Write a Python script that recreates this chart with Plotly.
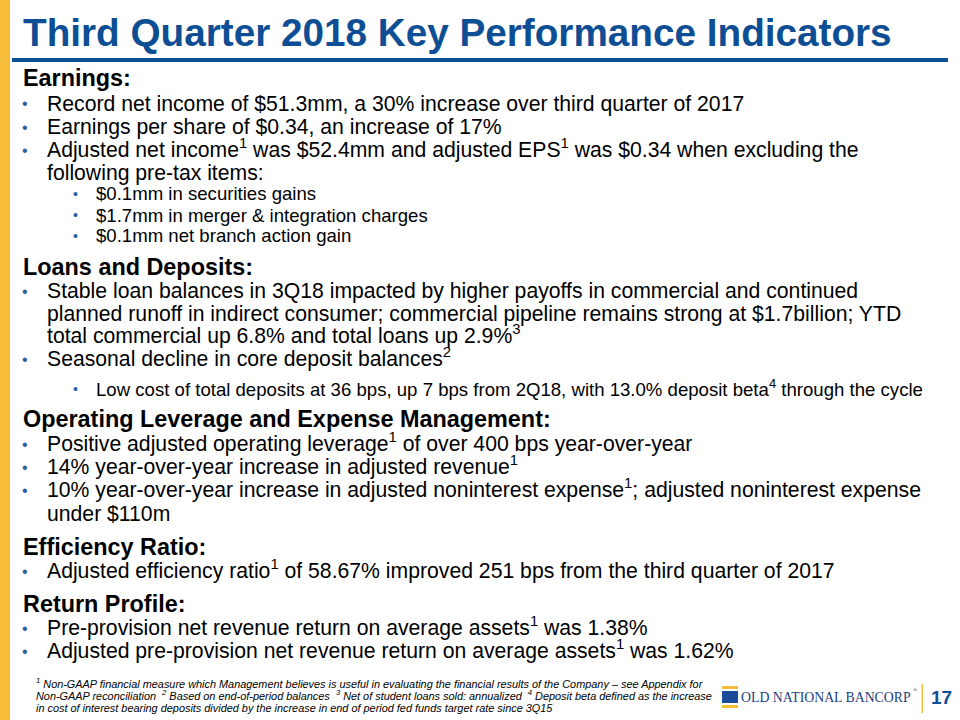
import plotly.graph_objects as go

W, H = 960, 720

# ---------------- text content ----------------
title_text = "Third Quarter 2018 Key Performance Indicators"

section_headers = [
    "Earnings:",
    "Loans and Deposits:",
    "Operating Leverage and Expense Management:",
    "Efficiency Ratio:",
    "Return Profile:",
]

# kind: b = bullet, c = continuation, s = sub-bullet
earnings_lines = [
    ("b", "Record net income of $51.3mm, a 30% increase over third quarter of 2017"),
    ("b", "Earnings per share of $0.34, an increase of 17%"),
    ("b", "Adjusted net income<sup>1</sup> was $52.4mm and adjusted EPS<sup>1</sup> was $0.34 when excluding the"),
    ("c", "following pre-tax items:"),
    ("s", "$0.1mm in securities gains"),
    ("s", "$1.7mm in merger &amp; integration charges"),
    ("s", "$0.1mm net branch action gain"),
]
loans_lines = [
    ("b", "Stable loan balances in 3Q18 impacted by higher payoffs in commercial and continued"),
    ("c", "planned runoff in indirect consumer; commercial pipeline remains strong at $1.7billion; YTD"),
    ("c", "total commercial up 6.8% and total loans up 2.9%<sup>3</sup>"),
    ("b", "Seasonal decline in core deposit balances<sup>2</sup>"),
    ("s", "Low cost of total deposits at 36 bps, up 7 bps from 2Q18, with 13.0% deposit beta<sup>4</sup> through the cycle"),
]
operating_lines = [
    ("b", "Positive adjusted operating leverage<sup>1</sup> of over 400 bps year-over-year"),
    ("b", "14% year-over-year increase in adjusted revenue<sup>1</sup>"),
    ("b", "10% year-over-year increase in adjusted noninterest expense<sup>1</sup>; adjusted noninterest expense"),
    ("c", "under $110m"),
]
efficiency_lines = [
    ("b", "Adjusted efficiency ratio<sup>1</sup> of 58.67% improved 251 bps from the third quarter of 2017"),
]
return_lines = [
    ("b", "Pre-provision net revenue return on average assets<sup>1</sup> was 1.38%"),
    ("b", "Adjusted pre-provision net revenue return on average assets<sup>1</sup> was 1.62%"),
]
section_lines = [earnings_lines, loans_lines, operating_lines, efficiency_lines, return_lines]

footnote_lines = [
    "<sup>1</sup> Non-GAAP financial measure which Management believes is useful in evaluating the financial results of the Company \u2013 see Appendix for",
    "Non-GAAP reconciliation  <sup>2</sup> Based on end-of-period balances  <sup>3</sup> Net of student loans sold: annualized  <sup>4</sup> Deposit beta defined as the increase",
    "in cost of interest bearing deposits divided by the increase in end of period fed funds target rate since 3Q15",
]
logo_text = "OLD NATIONAL BANCORP"
page_number = "17"

# ---------------- layout (pixel positions) ----------------
header_y = [78, 267, 419, 547, 604]
line_y = [
    [104, 127, 150, 173, 194, 215, 236],
    [291, 314, 336, 359, 389],
    [444, 467, 490, 513],
    [571],
    [628, 651],
]
footnote_y = [684, 696, 708]

BLUE = "#0D4E94"
GOLD = "#F5BD3A"
BULLET = "#2B5EA3"
SANS = "Liberation Sans, Arial, sans-serif"
SERIF = "Liberation Serif, Times New Roman, serif"

TITLE_SIZE = 38.7
HEADER_SIZE = 23.4
BODY_SIZE = 21.2
SUB_SIZE = 18.6
FOOT_SIZE = 10.9


def px(x):
    return x / W


def py(y):
    return 1 - y / H


annotations = []
shapes = []


def add_text(x, y, text, size, color="#000000", family=SANS):
    # a raised superscript grows the text box upward; keep the baseline in place
    if "<sup>" in text:
        y -= 0.05 * size
    annotations.append(dict(
        x=px(x), y=py(y), xref="paper", yref="paper",
        xanchor="left", yanchor="middle", align="left",
        text=text, showarrow=False,
        font=dict(family=family, size=size, color=color),
    ))


# left gold bar
shapes.append(dict(type="rect", xref="paper", yref="paper",
                   x0=0, x1=px(10), y0=0, y1=1, fillcolor=GOLD, line_width=0))
# title underline
shapes.append(dict(type="rect", xref="paper", yref="paper",
                   x0=px(12), x1=px(948), y0=py(62), y1=py(58), fillcolor=BLUE, line_width=0))

add_text(21, 33, "<b>" + title_text + "</b>", TITLE_SIZE, BLUE)

for hdr, hy, lines, ys in zip(section_headers, header_y, section_lines, line_y):
    add_text(21, hy, "<b>" + hdr + "</b>", HEADER_SIZE)
    for (kind, txt), y in zip(lines, ys):
        if kind == "b":
            add_text(20, y, "\u2022", 16, BULLET)
            add_text(45, y, txt, BODY_SIZE)
        elif kind == "c":
            add_text(45, y, txt, BODY_SIZE)
        else:
            add_text(71, y, "\u2022", 14, BULLET)
            add_text(94, y, txt, SUB_SIZE)

for txt, y in zip(footnote_lines, footnote_y):
    add_text(34, y, "<i>" + txt + "</i>", FOOT_SIZE)

# logo
shapes.append(dict(type="rect", xref="paper", yref="paper",
                   x0=px(722), x1=px(738), y0=py(689), y1=py(686), fillcolor=GOLD, line_width=0))
shapes.append(dict(type="rect", xref="paper", yref="paper",
                   x0=px(722), x1=px(738), y0=py(703), y1=py(691), fillcolor="#1B4A96", line_width=0))
shapes.append(dict(type="rect", xref="paper", yref="paper",
                   x0=px(722), x1=px(738), y0=py(708), y1=py(705), fillcolor=GOLD, line_width=0))
add_text(739, 697, logo_text, 13.8, "#1B3F80", SERIF)
add_text(911, 690, "\u00ae", 5.5, "#1B3F80", SERIF)
shapes.append(dict(type="rect", xref="paper", yref="paper",
                   x0=px(921.5), x1=px(923), y0=py(713), y1=py(684), fillcolor=GOLD, line_width=0))
add_text(929, 697, "<b>" + page_number + "</b>", 19, BLUE)

fig = go.Figure()
fig.update_layout(
    width=W, height=H,
    margin=dict(l=0, r=0, t=0, b=0),
    paper_bgcolor="white", plot_bgcolor="white",
    xaxis=dict(visible=False, range=[0, 1]),
    yaxis=dict(visible=False, range=[0, 1]),
    shapes=shapes, annotations=annotations,
    showlegend=False,
)
fig.write_html(
    "out.html",
    config={"displayModeBar": False},
    post_script="document.body.style.margin='0px';document.body.style.overflow='hidden';",
)
